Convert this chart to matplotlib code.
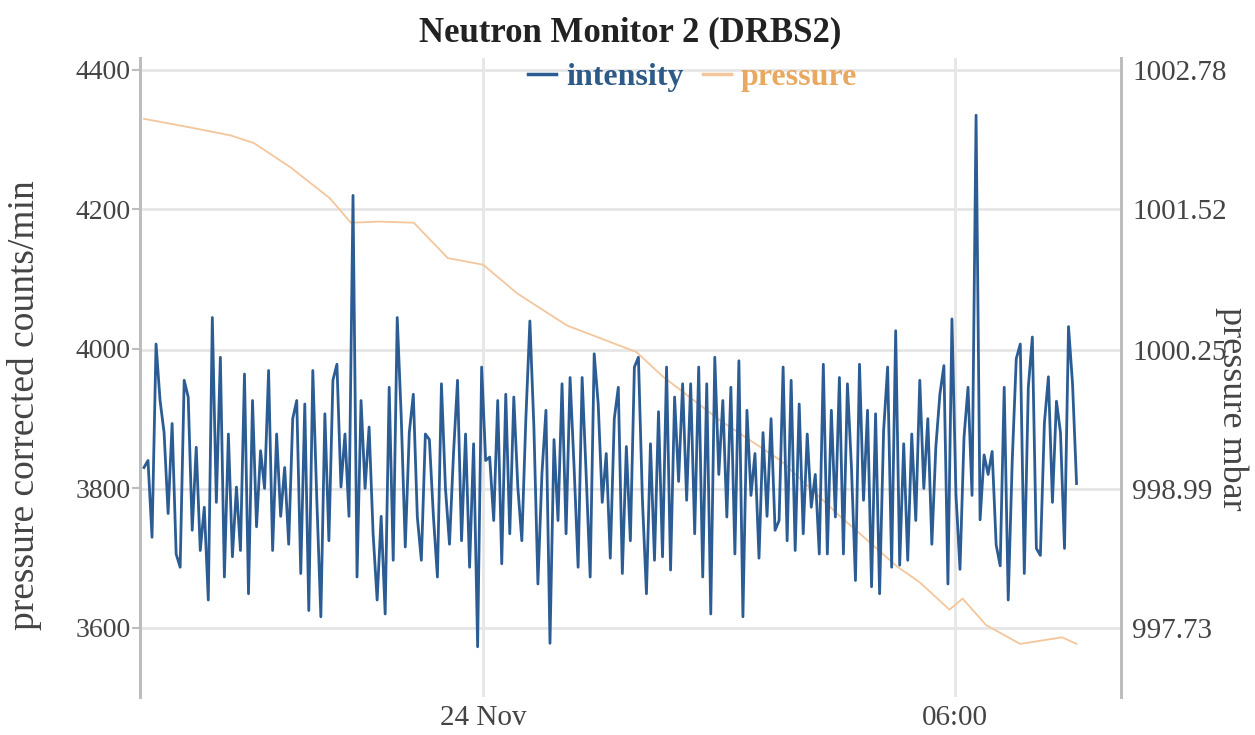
import pandas as pd
import matplotlib
matplotlib.use("Agg")
import matplotlib.pyplot as plt
import matplotlib.dates as mdates

plt.rcParams['font.family'] = ['Liberation Serif', 'DejaVu Serif']

# intensity, pressure corrected counts/min (~3 min steps)
intensity = [
    3830, 3840, 3730, 4007, 3926, 3880, 3764, 3893, 3706, 3687, 3955, 3931, 3740, 3859, 3711, 3773,
    3640, 4045, 3780, 3988, 3673, 3878, 3702, 3802, 3711, 3964, 3649, 3926, 3745, 3854, 3800, 3969,
    3711, 3878, 3760, 3830, 3720, 3900,
    3926, 3678, 3921, 3625, 3969, 3783, 3616, 3907, 3725, 3955, 3978, 3802, 3878, 3760, 4220, 3673,
    3926, 3800, 3888, 3735, 3640, 3760, 3620, 3945, 3697, 4045, 3902, 3716, 3880, 3935, 3759, 3697,
    3878, 3870, 3760, 3673, 3950, 3800, 3720, 3850,
    3955, 3725, 3878, 3687, 3864, 3573, 3974, 3840, 3845, 3754, 3926, 3692, 3935, 3735, 3931, 3802,
    3725, 3900, 4040, 3888, 3663, 3821, 3912, 3578, 3870, 3754, 3950, 3735, 3959, 3830, 3687, 3959,
    3820, 3673, 3993, 3921, 3780, 3850, 3700, 3900,
    3945, 3678, 3860, 3725, 3974, 3988, 3783, 3649, 3864, 3697, 3910, 3702, 3974, 3683, 3931, 3810,
    3950, 3783, 3950, 3735, 3974, 3673, 3950, 3620, 3988, 3820, 3926, 3759, 3945, 3706, 3983, 3616,
    3912, 3790, 3850, 3700, 3880, 3760, 3900, 3740,
    3754, 3974, 3725, 3955, 3711, 3921, 3735, 3878, 3773, 3820, 3706, 3978, 3706, 3912, 3759, 3959,
    3706, 3950, 3830, 3668, 3978, 3783, 3912, 3659, 3907, 3649, 3883, 3974, 3687, 4026, 3690, 3864,
    3697, 3878, 3754, 3955, 3800, 3900, 3720, 3860,
    3935, 3976, 3663, 4043, 3791, 3684, 3873, 3945, 3790, 4335, 3755, 3848, 3820, 3853, 3719, 3689,
    3945, 3640, 3840, 3986, 4007, 3678, 3945, 4017, 3714, 3704, 3894, 3960, 3780, 3925, 3880, 3714,
    4032, 3950, 3807,
]
intensity_start = "2023-11-23 19:41"
intensity_end = "2023-11-24 07:33"

# pressure in mbar
pressure_times = [
    "2023-11-23 19:41", "2023-11-23 20:17", "2023-11-23 20:47", "2023-11-23 21:05",
    "2023-11-23 21:33", "2023-11-23 22:03", "2023-11-23 22:19", "2023-11-23 22:41",
    "2023-11-23 23:07", "2023-11-23 23:33", "2023-11-24 00:00", "2023-11-24 00:26",
    "2023-11-24 01:04", "2023-11-24 01:35", "2023-11-24 01:57", "2023-11-24 02:17",
    "2023-11-24 03:01", "2023-11-24 03:47", "2023-11-24 04:32", "2023-11-24 05:16",
    "2023-11-24 05:33", "2023-11-24 05:56", "2023-11-24 06:06", "2023-11-24 06:24",
    "2023-11-24 06:50", "2023-11-24 07:22", "2023-11-24 07:33",
]
pressure = [
    1002.34, 1002.26, 1002.19, 1002.12, 1001.90, 1001.62, 1001.40, 1001.41,
    1001.40, 1001.08, 1001.02, 1000.76, 1000.47, 1000.33, 1000.23, 1000.01,
    999.61, 999.25, 998.75, 998.29, 998.15, 997.90, 998.00, 997.76,
    997.59, 997.65, 997.59,
]

left_ticks = [3600, 3800, 4000, 4200, 4400]
right_ticks = [997.73, 998.99, 1000.25, 1001.52, 1002.78]

t_int = pd.date_range(intensity_start, intensity_end, periods=len(intensity))
t_pres = pd.to_datetime(pressure_times)

blue = '#2b5c93'
orange = '#f3c69b'
grid_c = '#e6e6e6'
spine_c = '#bdbdbd'
text_c = '#444444'

fig = plt.figure(figsize=(12.55, 7.35), dpi=100)
ax = fig.add_axes([0.1116, 0.0517, 0.7817, 0.8694])
ax2 = ax.twinx()

# pressure goes underneath the intensity trace
ax.set_zorder(2)
ax.patch.set_visible(False)
ax2.set_zorder(1)

ax2.plot(t_pres, pressure, color=orange, lw=1.3)
ax.plot(t_int, intensity, color=blue, lw=2.0, label='intensity')

ax.set_ylim(3501, 4417)
ax2.set_ylim(997.11, 1002.89)
ax.set_xlim(pd.Timestamp("2023-11-23 19:38"), pd.Timestamp("2023-11-24 08:07"))

ax.set_yticks(left_ticks)
ax2.set_yticks(right_ticks)
ax2.set_yticklabels([f"{v:.2f}" for v in right_ticks])

ax.xaxis.set_major_locator(mdates.HourLocator(byhour=[0, 6]))
def fmt_date(x, pos=None):
    d = mdates.num2date(x)
    return d.strftime('%d %b') if d.hour == 0 else d.strftime('%H:%M')
ax.xaxis.set_major_formatter(plt.FuncFormatter(fmt_date))

ax.grid(False)
ax2.grid(True, axis='y', color=grid_c, lw=2)
for t in ax.get_xticks():
    ax2.axvline(t, color=grid_c, lw=2, zorder=0)

for a in (ax, ax2):
    a.spines['top'].set_visible(False)
    a.spines['bottom'].set_visible(False)
    for s in ('left', 'right'):
        a.spines[s].set_color(spine_c)
        a.spines[s].set_linewidth(2)

ax.tick_params(axis='y', labelsize=20, colors=text_c, color=spine_c, length=6, width=1.5, pad=1)
ax.tick_params(axis='x', labelsize=21, colors=text_c, length=0, pad=6)
ax2.tick_params(axis='y', labelsize=21, colors=text_c, length=0, pad=8)

ax.set_ylabel('pressure corrected counts/min', fontsize=27, color=text_c)
ax.yaxis.set_label_coords(-0.100, 0.457)
ax2.set_ylabel('pressure mbar', fontsize=26, color=text_c, rotation=270)
ax2.yaxis.set_label_coords(1.113, 0.451)
ax2.yaxis.label.set_va('center')

ax.set_title('Neutron Monitor 2 (DRBS2)', fontsize=25, fontweight='bold', color='#222222', pad=12)

h1 = plt.Line2D([], [], color=blue, lw=2.5)
h2 = plt.Line2D([], [], color=orange, lw=2.5)
leg = ax.legend([h1, h2], ['intensity', 'pressure'], loc='center', bbox_to_anchor=(0.563, 0.969),
                ncol=2, frameon=False, handlelength=0.9, handletextpad=0.3, columnspacing=0.6,
                prop={'size': 23, 'weight': 'bold'})
leg.get_texts()[0].set_color('#2d5a87')
leg.get_texts()[1].set_color('#e9a860')

fig.savefig('out.png', dpi=100)
